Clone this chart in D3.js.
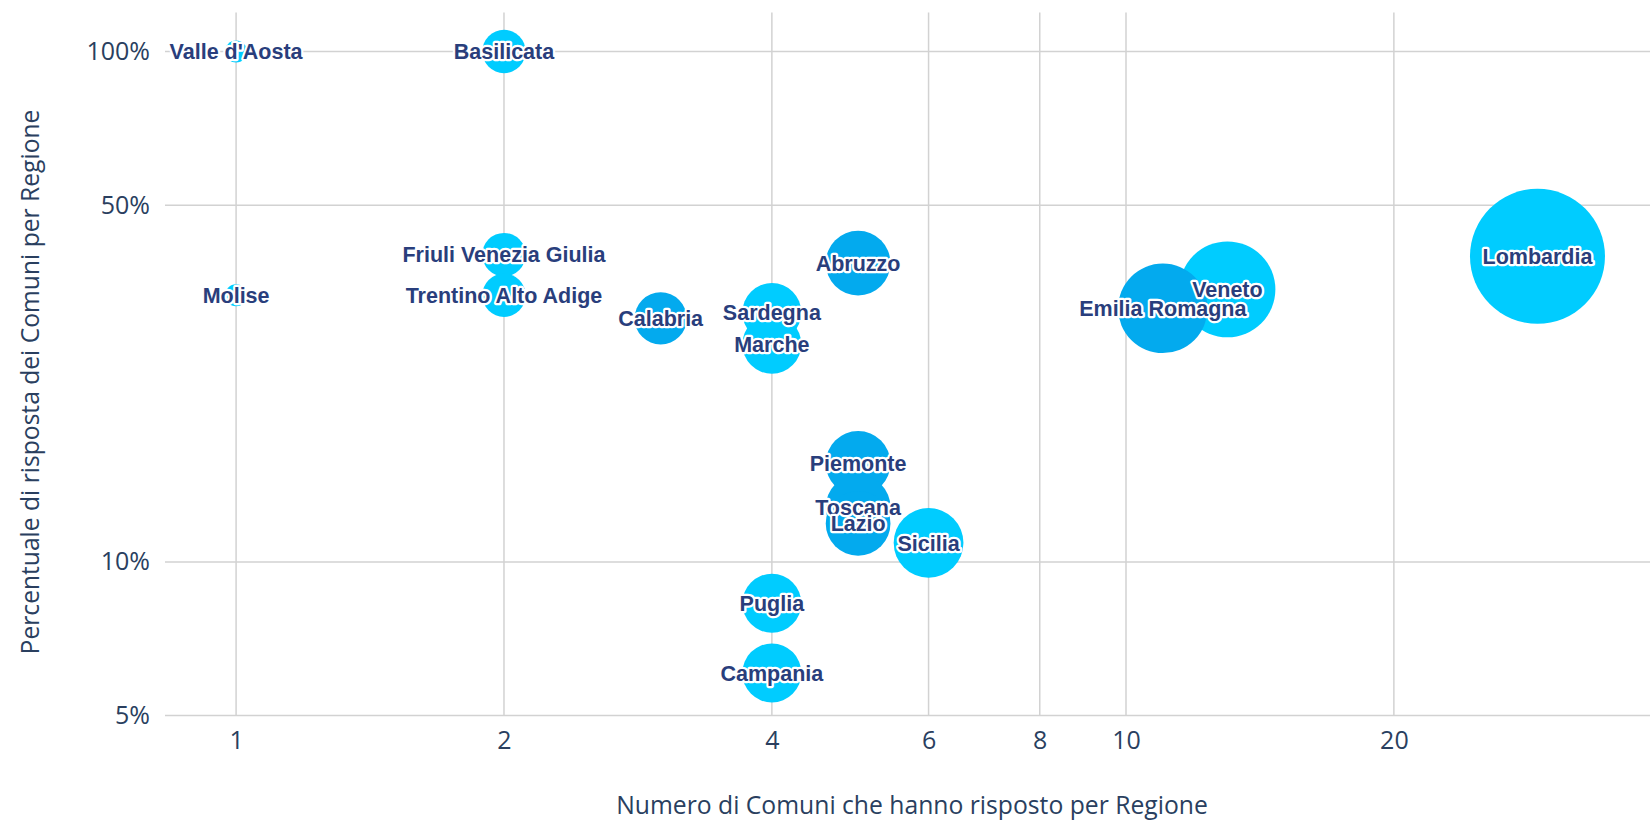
<!DOCTYPE html>
<html>
<head>
<meta charset="utf-8">
<script src="https://cdn.jsdelivr.net/npm/d3@7"></script>
<style>
  html, body { margin: 0; padding: 0; background: #fff; }
  svg { display: block; }
</style>
</head>
<body>
<svg id="chart" width="1650" height="821"></svg>
<script>
// ---- Data ----
const regions = ["Valle d'Aosta", "Basilicata", "Molise", "Friuli Venezia Giulia", "Trentino Alto Adige",
  "Sardegna", "Marche", "Puglia", "Campania", "Veneto", "Lombardia",
  "Calabria", "Abruzzo", "Piemonte", "Toscana", "Lazio", "Emilia Romagna", "Sicilia"];
const comuniRisposto = [1, 2, 1, 2, 2, 4, 4, 4, 4, 13, 29, 3, 5, 5, 5, 5, 11, 6];
const percentRisposta = [1.00, 1.00, 0.333, 0.40, 0.333, 0.308, 0.267, 0.083, 0.0606, 0.342, 0.397,
  0.30, 0.385, 0.156, 0.128, 0.119, 0.314, 0.109];
const gruppo = [0, 0, 0, 0, 0, 0, 0, 0, 0, 0, 0, 1, 1, 1, 1, 1, 1, 0];
const xTicks = [1, 2, 4, 6, 8, 10, 20];
const yTicks = [0.05, 0.10, 0.50, 1.00];
const xTitle = "Numero di Comuni che hanno risposto per Regione";
const yTitle = "Percentuale di risposta dei Comuni per Regione";

// ---- Layout ----
const plot = { left: 165, right: 1650, top: 12.6, bottom: 715.6 };
const colors = ["#00ccff", "#03aaee"];
const textColor = "#293e7c";
const axisColor = "#2a3f5f";
const gridColor = "#d2d2d2";

const svg = d3.select("#chart");

const x = d3.scaleLog().domain([0.832, 38.8]).range([plot.left, plot.right]);
const y = d3.scaleLog().domain([0.05, 1.192]).range([plot.bottom, plot.top]);
const rScale = d3.scaleSqrt().domain([0, 28]).range([11, 67.5]);

const data = regions.map((name, i) => ({
  name, n: comuniRisposto[i], p: percentRisposta[i], g: gruppo[i]
}));

// Grid
const grid = svg.append("g");
grid.selectAll("line.vx").data(xTicks).join("line")
  .attr("x1", d => x(d)).attr("x2", d => x(d))
  .attr("y1", plot.top).attr("y2", plot.bottom)
  .attr("stroke", gridColor).attr("stroke-width", 1.5);
grid.selectAll("line.hy").data(yTicks).join("line")
  .attr("x1", plot.left).attr("x2", plot.right)
  .attr("y1", d => y(d)).attr("y2", d => y(d))
  .attr("stroke", gridColor).attr("stroke-width", 1.5);

// Axes (tick labels via d3 axes)
const fontAxis = "'Open Sans', sans-serif";
const xAxis = d3.axisBottom(x).tickValues(xTicks).tickFormat(d3.format("d")).tickSize(0).tickPadding(0);
const gx = svg.append("g").attr("transform", `translate(0,${plot.bottom + 16})`).call(xAxis);
gx.select(".domain").remove();
gx.selectAll("text").attr("fill", axisColor).attr("font-family", fontAxis).attr("font-size", 25)
  .attr("dy", "0.71em");

const yAxis = d3.axisLeft(y).tickValues(yTicks).tickFormat(d3.format(".0%")).tickSize(0).tickPadding(0);
const gy = svg.append("g").attr("transform", `translate(150,0)`).call(yAxis);
gy.select(".domain").remove();
gy.selectAll("text").attr("fill", axisColor).attr("font-family", fontAxis).attr("font-size", 25);

// Titles
function fit(sel, target) {
  const node = sel.node();
  const fs = parseFloat(sel.attr("font-size"));
  const w = node.getComputedTextLength();
  if (w > 0) sel.attr("font-size", fs * target / w);
}
const xt = svg.append("text").attr("x", 912).attr("y", 814)
  .attr("text-anchor", "middle").attr("fill", axisColor)
  .attr("font-family", fontAxis).attr("font-size", 22).text(xTitle);
fit(xt, 592);
const yt = svg.append("text").attr("transform", "translate(30,382) rotate(-90)").attr("dy", "0.35em")
  .attr("text-anchor", "middle").attr("fill", axisColor)
  .attr("font-family", fontAxis).attr("font-size", 22).text(yTitle);
fit(yt, 545);

// Bubbles
svg.append("g").selectAll("circle").data(data).join("circle")
  .attr("cx", d => x(d.n)).attr("cy", d => y(d.p))
  .attr("r", d => rScale(d.n - 1))
  .attr("fill", d => colors[d.g]);

// Labels
svg.append("g").selectAll("text").data(data).join("text")
  .attr("x", d => x(d.n)).attr("y", d => y(d.p)).attr("dy", "0.36em")
  .attr("text-anchor", "middle")
  .attr("font-family", "'Liberation Sans', Arial, sans-serif")
  .attr("font-weight", "bold").attr("font-size", 21.5)
  .attr("fill", textColor)
  .attr("stroke", "#fff").attr("stroke-width", 4.5).attr("stroke-linejoin", "round")
  .attr("paint-order", "stroke")
  .text(d => d.name);
</script>
</body>
</html>
